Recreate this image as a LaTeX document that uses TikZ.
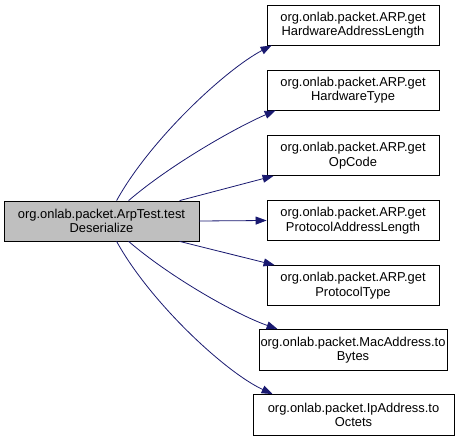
\documentclass[tikz,border=0pt]{standalone}
\usepackage{fontspec}
\setmainfont{Liberation Sans}
\usetikzlibrary{arrows.meta}
\definecolor{edgeblue}{HTML}{191970}
\definecolor{nodegray}{HTML}{BFBFBF}
\begin{document}
\begin{tikzpicture}[x=1pt,y=-1pt,
  box/.style={draw=black, line width=0.8pt, fill=white, inner sep=0pt, align=center,
    minimum height=40pt, font=\fontsize{12.9}{14.5}\selectfont},
  call/.style={draw=edgeblue, line width=0.8pt, -{Triangle[length=11pt,width=8pt]}}]
\useasboundingbox (0,0) rectangle (464,443);
\node[box, fill=nodegray, minimum width=195pt] (L) at (101.5,221) {org.onlab.packet.ArpTest.test\\Deserialize};
\node[box, minimum width=172pt] (N1) at (353,25) {org.onlab.packet.ARP.get\\HardwareAddressLength};
\node[box, minimum width=172pt] (N2) at (353,90) {org.onlab.packet.ARP.get\\HardwareType};
\node[box, minimum width=172pt] (N3) at (353,155.5) {org.onlab.packet.ARP.get\\OpCode};
\node[box, minimum width=172pt] (N4) at (353,220.5) {org.onlab.packet.ARP.get\\ProtocolAddressLength};
\node[box, minimum width=172pt] (N5) at (353,285.5) {org.onlab.packet.ARP.get\\ProtocolType};
\node[box, minimum width=188pt, minimum height=41pt] (N6) at (353,350) {org.onlab.packet.MacAddress.to\\Bytes};
\node[box, minimum width=201pt, minimum height=41pt] (N7) at (353.5,415) {org.onlab.packet.IpAddress.to\\Octets};
\draw[call] ([xshift=113pt]L.north west) .. controls (150,140) and (225,70) .. ([xshift=5pt]N1.south west);
\draw[call] ([xshift=125pt]L.north west) .. controls (170,165) and (235,128) .. ([xshift=9pt]N2.south west);
\draw[call] ([xshift=176pt]L.north west) -- ([xshift=7pt]N3.south west);
\draw[call] (L.east) -- (N4.west);
\draw[call] ([xshift=176pt]L.south west) -- ([xshift=8pt]N5.north west);
\draw[call] ([xshift=125pt]L.south west) .. controls (170,277) and (235,314) .. ([xshift=19pt]N6.north west);
\draw[call] ([xshift=113pt]L.south west) .. controls (150,302) and (225,372) .. ([xshift=20pt]N7.north west);
\end{tikzpicture}
\end{document}
